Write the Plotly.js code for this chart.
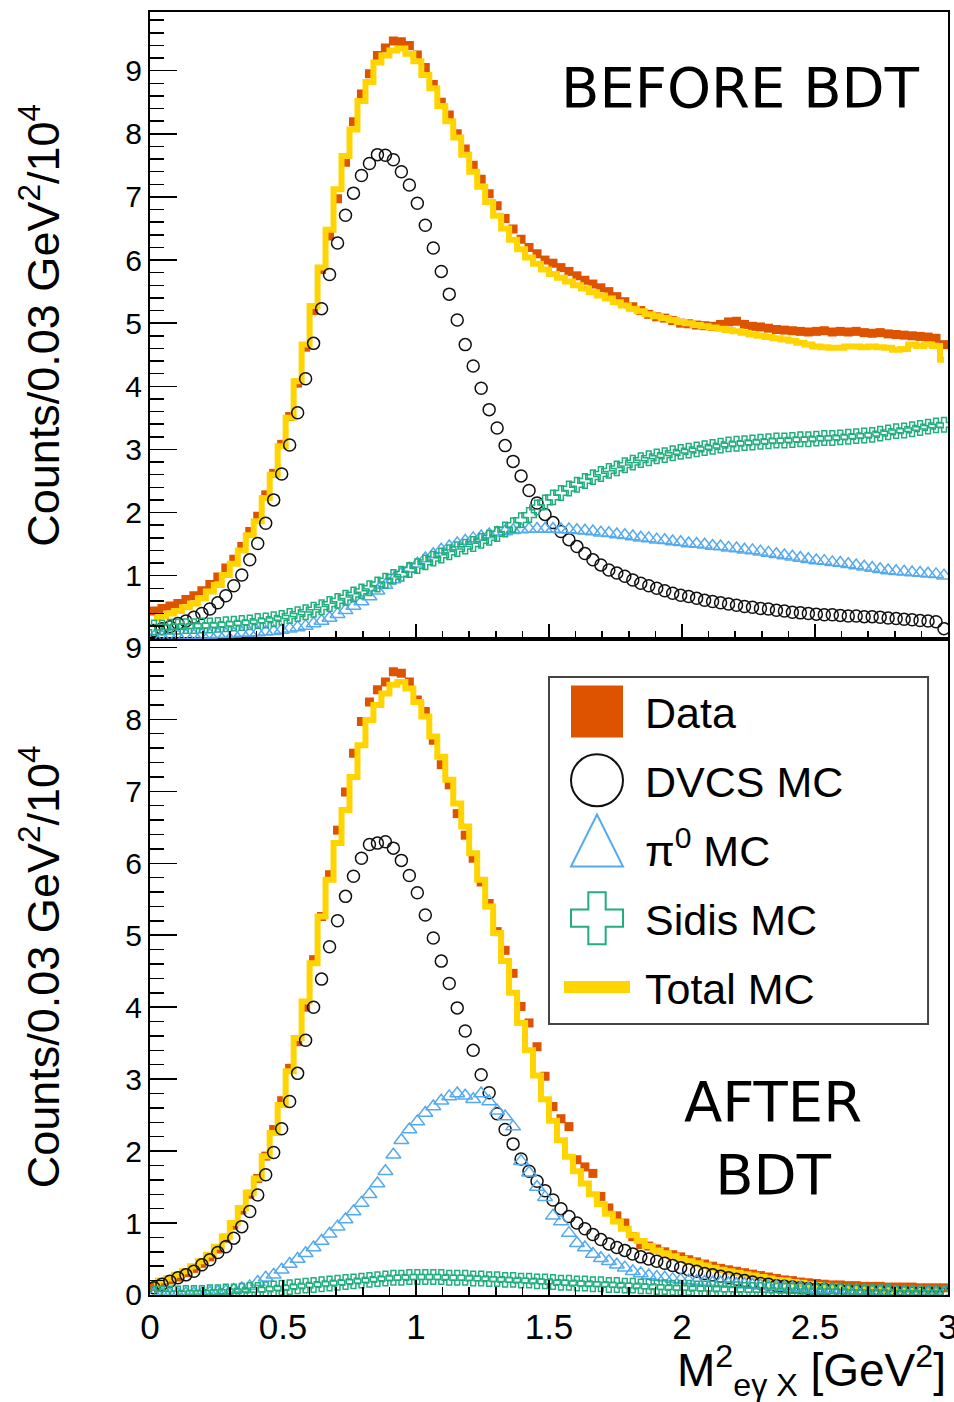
<!DOCTYPE html>
<html>
<head>
<meta charset="utf-8">
<script src="https://cdn.plot.ly/plotly-3.0.1.min.js"></script>
<style>html,body{margin:0;padding:0;background:#fff;}</style>
</head>
<body>
<div id="chart" style="width:954px;height:1402px;"></div>
<script>
// Histogram binning: 100 bins of 0.03 GeV^2 from 0 to 3
const binWidth = 0.03;
const nBins = 100;
const binCenters = Array.from({length: nBins}, (_, i) => +(binWidth * (i + 0.5)).toFixed(3));

// ---------- BEFORE BDT (counts / 10^4) ----------
const topData = [0.44,0.48,0.52,0.56,0.62,0.68,0.76,0.86,0.98,1.12,
 1.26,1.46,1.70,1.94,2.28,2.62,3.08,3.52,4.05,4.62,
 5.20,5.85,6.38,6.97,7.55,8.19,8.63,8.95,9.24,9.36,
 9.47,9.46,9.40,9.25,9.05,8.78,8.50,8.30,8.00,7.76,
 7.50,7.28,7.05,6.86,6.66,6.49,6.33,6.20,6.10,6.00,
 5.95,5.88,5.82,5.75,5.68,5.62,5.56,5.50,5.42,5.34,
 5.26,5.20,5.14,5.10,5.08,5.04,5.00,4.99,4.97,4.96,
 4.95,4.98,5.02,5.03,4.98,4.95,4.94,4.92,4.90,4.89,
 4.88,4.87,4.86,4.87,4.88,4.86,4.87,4.86,4.87,4.85,
 4.84,4.85,4.83,4.82,4.81,4.80,4.79,4.78,4.76,4.66];
const topTotal = [0.32,0.36,0.40,0.44,0.50,0.56,0.64,0.75,0.85,1.01,
 1.19,1.40,1.64,1.86,2.23,2.60,3.05,3.50,4.08,4.66,
 5.27,5.88,6.48,7.12,7.65,8.07,8.52,8.82,9.13,9.24,
 9.32,9.35,9.27,9.15,8.93,8.72,8.44,8.20,7.94,7.67,
 7.40,7.16,6.92,6.70,6.50,6.32,6.17,6.04,5.94,5.85,
 5.78,5.72,5.66,5.60,5.55,5.49,5.44,5.39,5.33,5.28,
 5.23,5.19,5.14,5.11,5.08,5.05,5.02,5.00,4.97,4.95,
 4.93,4.91,4.89,4.87,4.85,4.82,4.80,4.78,4.76,4.74,
 4.72,4.69,4.66,4.63,4.62,4.61,4.61,4.63,4.63,4.62,
 4.63,4.62,4.61,4.58,4.59,4.66,4.64,4.66,4.64,4.42];
const topDVCS = [0.13,0.16,0.19,0.24,0.28,0.34,0.40,0.47,0.57,0.68,
 0.84,1.01,1.25,1.51,1.83,2.20,2.61,3.07,3.58,4.12,
 4.68,5.23,5.77,6.27,6.71,7.06,7.34,7.53,7.67,7.66,
 7.59,7.40,7.19,6.90,6.55,6.19,5.82,5.46,5.05,4.66,
 4.32,3.97,3.63,3.34,3.06,2.81,2.58,2.35,2.15,1.97,
 1.84,1.70,1.57,1.46,1.35,1.25,1.17,1.09,1.04,0.99,
 0.93,0.88,0.84,0.80,0.76,0.72,0.69,0.67,0.64,0.61,
 0.59,0.57,0.55,0.53,0.51,0.50,0.48,0.47,0.45,0.44,
 0.42,0.41,0.40,0.39,0.38,0.38,0.37,0.36,0.36,0.35,
 0.35,0.34,0.33,0.32,0.31,0.30,0.29,0.28,0.27,0.16];
const topPi0 = [0.03,0.03,0.04,0.04,0.05,0.05,0.06,0.06,0.07,0.07,
 0.08,0.09,0.09,0.10,0.11,0.12,0.14,0.16,0.18,0.20,
 0.24,0.28,0.33,0.39,0.45,0.52,0.59,0.67,0.76,0.85,
 0.94,1.03,1.11,1.19,1.27,1.34,1.41,1.46,1.51,1.55,
 1.59,1.62,1.65,1.68,1.70,1.72,1.73,1.74,1.74,1.74,
 1.74,1.73,1.73,1.72,1.71,1.70,1.68,1.67,1.65,1.64,
 1.62,1.60,1.59,1.57,1.56,1.54,1.53,1.51,1.50,1.49,
 1.47,1.46,1.44,1.43,1.41,1.40,1.38,1.36,1.34,1.32,
 1.30,1.28,1.26,1.24,1.23,1.21,1.20,1.18,1.16,1.14,
 1.12,1.10,1.08,1.07,1.06,1.05,1.04,1.03,1.02,1.00];
const topSidis = [0.18,0.18,0.19,0.19,0.20,0.20,0.21,0.21,0.22,0.23,
 0.24,0.25,0.26,0.28,0.29,0.31,0.33,0.36,0.39,0.42,
 0.46,0.50,0.55,0.60,0.65,0.70,0.75,0.80,0.86,0.92,
 0.98,1.03,1.09,1.15,1.21,1.27,1.32,1.37,1.42,1.46,
 1.50,1.55,1.60,1.66,1.73,1.80,1.88,1.96,2.08,2.16,
 2.24,2.31,2.38,2.44,2.50,2.56,2.61,2.66,2.70,2.75,
 2.79,2.83,2.86,2.89,2.91,2.94,2.96,2.98,3.00,3.02,
 3.04,3.06,3.08,3.09,3.10,3.11,3.12,3.13,3.14,3.14,
 3.15,3.16,3.16,3.17,3.18,3.18,3.19,3.20,3.21,3.22,
 3.23,3.25,3.27,3.29,3.30,3.32,3.34,3.36,3.38,3.39];

// ---------- AFTER BDT (counts / 10^4) ----------
const botData = [0.12,0.17,0.21,0.25,0.31,0.37,0.44,0.53,0.64,0.79,
 0.97,1.18,1.40,1.62,1.93,2.30,2.70,3.15,3.52,4.00,
 4.66,5.26,5.84,6.46,6.99,7.53,7.97,8.24,8.41,8.52,
 8.66,8.64,8.52,8.27,8.11,7.71,7.37,7.09,6.69,6.39,
 6.07,5.74,5.44,5.05,4.79,4.47,4.01,3.78,3.45,3.04,
 2.62,2.45,2.34,1.88,1.78,1.69,1.37,1.21,1.10,1.00,
 0.81,0.70,0.68,0.64,0.60,0.56,0.53,0.49,0.46,0.43,
 0.40,0.37,0.35,0.33,0.31,0.29,0.27,0.25,0.23,0.21,
 0.20,0.18,0.17,0.16,0.15,0.14,0.14,0.13,0.13,0.12,
 0.12,0.12,0.11,0.11,0.11,0.11,0.10,0.10,0.10,0.10];
const botTotal = [0.16,0.20,0.23,0.28,0.33,0.40,0.47,0.56,0.67,0.81,
 1.00,1.21,1.42,1.62,1.93,2.25,2.64,3.11,3.57,4.08,
 4.61,5.26,5.77,6.28,6.74,7.20,7.64,7.99,8.20,8.36,
 8.48,8.52,8.43,8.24,8.04,7.76,7.48,7.16,6.83,6.51,
 6.14,5.77,5.40,5.03,4.64,4.20,3.78,3.40,3.05,2.72,
 2.42,2.15,1.92,1.72,1.55,1.40,1.26,1.13,1.02,0.92,
 0.83,0.75,0.68,0.62,0.58,0.54,0.50,0.47,0.44,0.41,
 0.38,0.35,0.33,0.31,0.29,0.27,0.25,0.23,0.21,0.20,
 0.18,0.17,0.15,0.14,0.13,0.12,0.11,0.10,0.09,0.09,
 0.08,0.08,0.07,0.07,0.06,0.06,0.06,0.05,0.05,0.05];
const botDVCS = [0.10,0.15,0.19,0.24,0.28,0.33,0.42,0.49,0.59,0.67,
 0.79,0.95,1.16,1.39,1.67,1.98,2.31,2.69,3.08,3.54,
 4.00,4.39,4.84,5.20,5.54,5.82,6.07,6.26,6.28,6.30,
 6.21,6.04,5.83,5.59,5.28,4.96,4.64,4.33,3.99,3.67,
 3.40,3.06,2.81,2.52,2.30,2.10,1.89,1.72,1.58,1.45,
 1.32,1.20,1.09,1.00,0.92,0.84,0.77,0.71,0.66,0.62,
 0.57,0.53,0.50,0.47,0.44,0.41,0.38,0.35,0.33,0.30,
 0.28,0.26,0.24,0.22,0.20,0.18,0.16,0.15,0.13,0.12,
 0.11,0.10,0.09,0.08,0.08,0.07,0.07,0.06,0.06,0.05,
 0.05,0.05,0.04,0.04,0.04,0.03,0.03,0.03,0.03,0.02];
const botPi0 = [0.01,0.01,0.01,0.01,0.02,0.02,0.02,0.03,0.04,0.05,
 0.07,0.09,0.12,0.18,0.24,0.28,0.35,0.43,0.50,0.58,
 0.66,0.75,0.85,0.95,1.05,1.16,1.28,1.40,1.55,1.72,
 1.95,2.15,2.30,2.41,2.53,2.62,2.70,2.76,2.80,2.77,
 2.72,2.80,2.69,2.56,2.48,2.34,1.86,1.70,1.50,1.36,
 1.10,1.02,0.86,0.72,0.66,0.57,0.51,0.47,0.42,0.38,
 0.33,0.30,0.27,0.25,0.24,0.22,0.21,0.20,0.19,0.18,
 0.17,0.17,0.16,0.15,0.15,0.14,0.13,0.12,0.12,0.11,
 0.10,0.10,0.09,0.08,0.08,0.07,0.07,0.06,0.06,0.06,
 0.05,0.05,0.05,0.04,0.04,0.04,0.04,0.03,0.03,0.03];
const botSidis = [0.02,0.02,0.02,0.02,0.03,0.03,0.03,0.04,0.04,0.05,
 0.05,0.06,0.07,0.07,0.08,0.09,0.10,0.11,0.12,0.13,
 0.14,0.15,0.16,0.17,0.18,0.19,0.20,0.21,0.22,0.23,
 0.24,0.24,0.25,0.25,0.25,0.25,0.25,0.24,0.24,0.24,
 0.23,0.23,0.22,0.22,0.21,0.21,0.20,0.20,0.19,0.19,
 0.18,0.17,0.17,0.16,0.16,0.15,0.15,0.14,0.14,0.13,
 0.13,0.12,0.12,0.11,0.11,0.10,0.10,0.10,0.09,0.09,
 0.09,0.08,0.08,0.08,0.07,0.07,0.07,0.07,0.06,0.06,
 0.06,0.06,0.05,0.05,0.05,0.05,0.05,0.04,0.04,0.04,
 0.04,0.04,0.04,0.03,0.03,0.03,0.03,0.03,0.03,0.03];

const seriesNames = ['Data', 'DVCS MC', '\u03c0<sup>0</sup> MC', 'Sidis MC', 'Total MC'];
const xTickVals = [0, 0.5, 1, 1.5, 2, 2.5, 3];
const yTickValsTop = [1,2,3,4,5,6,7,8,9];
const yTickValsBot = [0,1,2,3,4,5,6,7,8,9];

const COL = {data:'#de5300', dvcs:'#111111', pi0:'#55aaee', sidis:'#1fae7c', total:'#ffd400'};

function panelTraces(vals, xa, ya, legend) {
  const [d, tot, dv, pi, sd] = vals;
  return [
    {x: binCenters, y: d, xaxis: xa, yaxis: ya, type:'scatter', mode:'markers', name: seriesNames[0],
     legendgroup:'g1', legendrank:1, showlegend: legend,
     marker:{symbol:'square', size:9, color:COL.data, line:{width:0}}},
    {x: binCenters, y: tot, xaxis: xa, yaxis: ya, type:'scatter', mode:'lines', name: seriesNames[4],
     legendgroup:'g5', legendrank:5, showlegend: legend,
     line:{shape:'hvh', width:6, color:COL.total}},
    {x: binCenters, y: dv, xaxis: xa, yaxis: ya, type:'scatter', mode:'markers', name: seriesNames[1],
     legendgroup:'g2', legendrank:2, showlegend: legend,
     marker:{symbol:'circle-open', size:12, color:COL.dvcs, line:{width:1.5, color:COL.dvcs}}},
    {x: binCenters, y: pi, xaxis: xa, yaxis: ya, type:'scatter', mode:'markers', name: seriesNames[2],
     legendgroup:'g3', legendrank:3, showlegend: legend,
     marker:{symbol:'triangle-up-open', size:13, color:COL.pi0, line:{width:1.5, color:COL.pi0}}},
    {x: binCenters, y: sd, xaxis: xa, yaxis: ya, type:'scatter', mode:'markers', name: seriesNames[3],
     legendgroup:'g4', legendrank:4, showlegend: legend,
     marker:{symbol:'cross-open', size:12, color:COL.sidis, line:{width:1.5, color:COL.sidis}}}
  ];
}

const traces = [
  ...panelTraces([topData, topTotal, topDVCS, topPi0, topSidis], 'x2', 'y', true),
  ...panelTraces([botData, botTotal, botDVCS, botPi0, botSidis], 'x', 'y2', false)
];

const FONT = 'Liberation Sans, Arial, Helvetica, sans-serif';
const yTitle = 'Counts/0.03 GeV<sup>2</sup>/10<sup>4</sup>';

const xCommon = {
  range:[0,3], tickmode:'array', tickvals:xTickVals,
  ticks:'inside', ticklen:15, tickwidth:1.5, tickcolor:'#000',
  showline:true, linecolor:'#000', linewidth:2, mirror:true,
  showgrid:false, zeroline:false, ticklabeloverflow:'allow',
  tickfont:{size:35, family:FONT, color:'#000'},
  minor:{tickmode:'linear', tick0:0, dtick:0.1, ticks:'inside', ticklen:8, tickwidth:1.5, tickcolor:'#000', showgrid:false}
};
const yCommon = {
  tickmode:'array',
  ticks:'inside', ticklen:27, tickwidth:1.5, tickcolor:'#000',
  showline:true, linecolor:'#000', linewidth:2, mirror:true,
  showgrid:false, zeroline:false,
  tickfont:{size:30, family:FONT, color:'#000'},
  title:{text:yTitle, font:{size:45, family:FONT, color:'#000'}, standoff:52},
  minor:{tickmode:'linear', tick0:0, dtick:0.2, ticks:'inside', ticklen:14, tickwidth:1.5, tickcolor:'#000', showgrid:false}
};

const layout = {
  width:954, height:1402,
  margin:{l:150, r:6, t:12, b:107},
  paper_bgcolor:'#fff', plot_bgcolor:'#fff',
  font:{family:FONT, color:'#000'},
  hovermode:false,
  showlegend:true,
  legend:{x:0.5, y:0.4817, xanchor:'left', yanchor:'top', xref:'paper', yref:'paper',
          font:{size:43, family:FONT, color:'#000'}, bgcolor:'rgba(0,0,0,0)', borderwidth:0,
          traceorder:'grouped', tracegroupgap:10, itemwidth:86, itemsizing:'trace'},
  xaxis: Object.assign({}, xCommon, {domain:[0,1], anchor:'y2'}),
  xaxis2: Object.assign({}, xCommon, {domain:[0,1], anchor:'y', matches:'x', showticklabels:false}),
  yaxis: Object.assign({}, yCommon, {domain:[0.5115,1], anchor:'x2', range:[0,9.93], tickvals:yTickValsTop}),
  yaxis2: Object.assign({}, yCommon, {domain:[0,0.5115], anchor:'x', range:[0,9.12], tickvals:yTickValsBot}),
  shapes:[
    {type:'rect', xref:'paper', yref:'paper', x0:0.5, x1:0.975, y0:0.2112, y1:0.4817,
     line:{color:'#444', width:2}, fillcolor:'rgba(0,0,0,0)', layer:'above'}
  ],
  annotations:[
    {text:'BEFORE BDT', xref:'paper', yref:'paper', x:0.7406, y:0.9408, xanchor:'center', yanchor:'middle',
     showarrow:false, font:{size:56, family:'DejaVu Sans, sans-serif', color:'#000'}},
    {text:'AFTER<br>BDT', xref:'paper', yref:'paper', x:0.7807, y:0.1224, xanchor:'center', yanchor:'middle',
     showarrow:false, font:{size:56, family:'DejaVu Sans, sans-serif', color:'#000'}},
    {text:'M<sup>2</sup><sub>e\u03b3 X</sub> [GeV<sup>2</sup>]', xref:'paper', yref:'paper', x:1, y:-0.0585,
     xanchor:'right', yanchor:'middle', showarrow:false, font:{size:46, family:FONT, color:'#000'}}
  ]
};

Plotly.newPlot('chart', traces, layout, {displayModeBar:false, staticPlot:true}).then(function(gd){
  // enlarge legend symbols to ROOT-style legend size (52 x 52 px box)
  gd.querySelectorAll('.legend .legendpoints path.scatterpts').forEach(function(p){
    var bb = p.getBBox();
    var sx = 52 / Math.max(bb.width, 1);
    var sy = 52 / Math.max(bb.height, 1);
    var t = p.getAttribute('transform') || '';
    p.setAttribute('transform', t + ' scale(' + sx + ',' + sy + ')');
    p.style.vectorEffect = 'non-scaling-stroke';
    p.style.strokeWidth = '2px';
  });
  gd.querySelectorAll('.legend .legendlines path').forEach(function(p){
    p.setAttribute('d', 'M15,0h66');
    p.style.strokeWidth = '12px';
  });
});
</script>
</body>
</html>
